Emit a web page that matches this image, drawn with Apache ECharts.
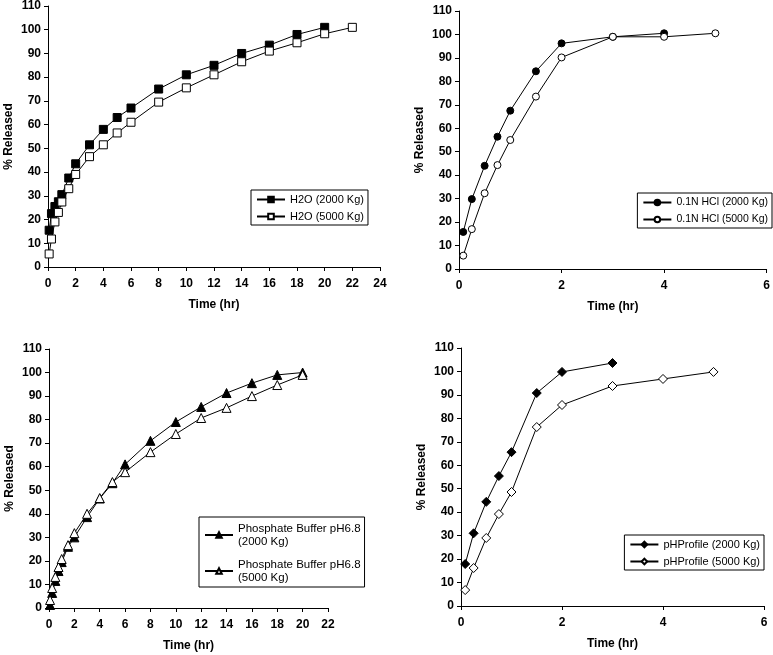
<!DOCTYPE html>
<html>
<head>
<meta charset="utf-8">
<script src="https://cdn.jsdelivr.net/npm/echarts@6/dist/echarts.min.js"></script>
<style>html,body{margin:0;padding:0;background:#fff}#c{width:773px;height:655px}</style>
</head>
<body>
<div id="c"></div>
<script>
// Panel 1: H2O
const h2oTime2000 = [0.083,0.25,0.5,0.75,1,1.5,2,3,4,5,6,8,10,12,14,16,18,20];
const h2o2000     = [15.5,22.5,25.5,27.5,30.5,37.5,43.5,51.5,58,63,67,75,81,85,90,93.5,98,101];
const h2oTime5000 = [0.083,0.25,0.5,0.75,1,1.5,2,3,4,5,6,8,10,12,14,16,18,20,22];
const h2o5000     = [5.5,11.8,19,23,27.4,33,39,46.5,51.5,56.5,61,69.5,75.5,81,86.5,91,94.5,98.3,101];
// Panel 2: 0.1N HCl
const hclTime2000 = [0.083,0.25,0.5,0.75,1,1.5,2,3,4];
const hcl2000     = [15.8,29.8,44,56.4,67.5,84.3,96.2,99,100.5];
const hclTime5000 = [0.083,0.25,0.5,0.75,1,1.5,2,3,4,5];
const hcl5000     = [5.7,17,32.3,44.3,55,73.5,90.2,99,99,100.5];
// Panel 3: Phosphate buffer pH 6.8
const phosTime2000 = [0.083,0.25,0.5,0.75,1,1.5,2,3,4,5,6,8,10,12,14,16,18,20];
const phos2000     = [1.3,6.4,11.5,15.7,19.5,26,30,38.6,46.5,53,61,71,79,85.4,91.3,95.5,99,100];
const phosTime5000 = [0.083,0.25,0.5,0.75,1,1.5,2,3,4,5,6,8,10,12,14,16,18,20];
const phos5000     = [3.4,8.5,13.2,17.4,20.8,26.7,31.8,40,46.7,53.5,57.7,66.2,73.9,80.7,85,90,94.7,99];
// Panel 4: pH profile
const phTime2000 = [0.083,0.25,0.5,0.75,1,1.5,2,3];
const ph2000     = [17.9,31,44.4,55.4,65.6,90.8,99.8,103.6];
const phTime5000 = [0.083,0.25,0.5,0.75,1,1.5,2,3,4,5];
const ph5000     = [6.8,16.2,29,39.2,48.6,76.3,85.7,93.8,96.8,99.8];

const yMin = 0, yMax = 110, yStep = 10;
const names = {
  a1: 'H2O (2000 Kg)', a2: 'H2O (5000 Kg)',
  b1: '0.1N HCl (2000 Kg)', b2: '0.1N HCl (5000 Kg)',
  c1: 'Phosphate Buffer pH6.8 (2000 Kg)', c2: 'Phosphate Buffer pH6.8 (5000 Kg)',
  d1: 'pHProfile (2000 Kg)', d2: 'pHProfile (5000 Kg)'
};

function zip(t, v){ return t.map((x,i)=>[x, v[i]]); }

const FONT = 'Liberation Sans, Arial, sans-serif';
const grids = [
  {left:48, top:6, width:332, height:261},
  {left:459, top:11, width:312, height:258},
  {left:49, top:349, width:279, height:259},
  {left:461, top:348, width:303, height:258}
];
const xMax = [24, 6, 22, 6];

function xAxis(i){
  return {
    type:'value', gridIndex:i, min:0, max:xMax[i], interval:2,
    name:'Time (hr)', nameLocation:'middle', nameGap:32,
    nameTextStyle:{color:'#000', fontWeight:'bold', fontSize:12, fontFamily:FONT},
    axisLine:{show:true, lineStyle:{color:'#000', width:1}},
    axisTick:{show:true, length:4, lineStyle:{color:'#000'}},
    axisLabel:{color:'#000', fontWeight:'bold', fontSize:12, fontFamily:FONT, margin:11},
    splitLine:{show:false}
  };
}
function yAxis(i){
  return {
    type:'value', gridIndex:i, min:yMin, max:yMax, interval:yStep,
    name:'% Released', nameLocation:'middle', nameGap:33,
    nameTextStyle:{color:'#000', fontWeight:'bold', fontSize:12, fontFamily:FONT},
    axisLine:{show:true, onZero:false, lineStyle:{color:'#000', width:1}},
    axisTick:{show:true, length:4, lineStyle:{color:'#000'}},
    axisLabel:{color:'#000', fontWeight:'bold', fontSize:12, fontFamily:FONT, margin:7},
    splitLine:{show:false}
  };
}

function series(name, i, data, symbol, size, filled){
  return {
    name, type:'line', xAxisIndex:i, yAxisIndex:i, data,
    symbol, symbolSize:size, showAllSymbol:true,
    lineStyle:{color:'#000', width:1},
    itemStyle:{color: filled ? '#000' : '#fff', borderColor:'#000', borderWidth:1},
    emphasis:{disabled:true}, animation:false
  };
}

function legend(items, pos, opts){
  return Object.assign({
    data: items, orient:'vertical',
    backgroundColor:'#fff',
    borderColor:'#000', borderWidth:1, padding:[4,4,3,5],
    itemGap:6, itemWidth:28, itemHeight:7,
    textStyle:{color:'#000', fontSize:11, fontFamily:FONT},
    selectedMode:false
  }, pos, opts || {});
}

const option = {
  animation:false,
  backgroundColor:'#fff',
  grid: grids,
  xAxis: [0,1,2,3].map(xAxis),
  yAxis: [0,1,2,3].map(yAxis),
  legend: [
    legend([names.a1, names.a2], {left:251, top:190}),
    legend([names.b1, names.b2], {right:1, top:193}, {textStyle:{color:'#000', fontSize:10.5, fontFamily:FONT}}),
    legend([names.c1, names.c2], {left:199, top:517}, {
      formatter: n=>n.replace(' (', '\n('), itemGap:10, padding:[5,4,3,5],
      textStyle:{color:'#000', fontSize:11.5, lineHeight:13, fontFamily:FONT}
    }),
    legend([names.d1, names.d2], {right:9, top:535}, {textStyle:{color:'#000', fontSize:11, fontFamily:FONT}})
  ],
  series: [
    series(names.a1, 0, zip(h2oTime2000, h2o2000), 'rect', 8, true),
    series(names.a2, 0, zip(h2oTime5000, h2o5000), 'rect', 8, false),
    series(names.b1, 1, zip(hclTime2000, hcl2000), 'circle', 7, true),
    series(names.b2, 1, zip(hclTime5000, hcl5000), 'circle', 7, false),
    series(names.c1, 2, zip(phosTime2000, phos2000), 'triangle', 9, true),
    series(names.c2, 2, zip(phosTime5000, phos5000), 'triangle', 9, false),
    series(names.d1, 3, zip(phTime2000, ph2000), 'diamond', 9, true),
    series(names.d2, 3, zip(phTime5000, ph5000), 'diamond', 9, false)
  ]
};
const chart = echarts.init(document.getElementById('c'), null, {renderer:'canvas'});
chart.setOption(option);
</script>
</body>
</html>
